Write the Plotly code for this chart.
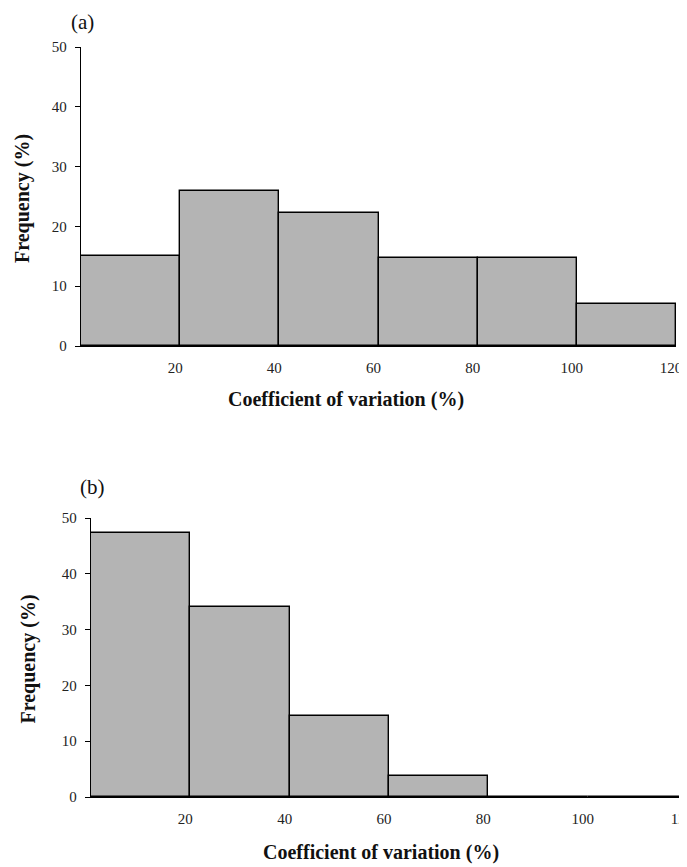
import plotly.graph_objects as go

# Data
bin_centers = [10, 30, 50, 70, 90, 110]
freq_a = [15.0, 26.0, 22.2, 14.7, 14.7, 7.1]
freq_b = [47.3, 34.1, 14.5, 3.8, 0.0, 0.0]
x_ticks = [20, 40, 60, 80, 100, 120]
y_ticks = [0, 10, 20, 30, 40, 50]
x_title = "Coefficient of variation (%)"
y_title = "Frequency (%)"

# page body has an 8px margin: size the figure to fit the window
OFF = 8
W, H = 687 - OFF, 867 - OFF
FONT = "Liberation Serif, Times New Roman, serif"
FILL = "#b4b4b4"

fig = go.Figure()
fig.add_trace(go.Bar(x=bin_centers, y=freq_a, width=20, xaxis="x", yaxis="y",
                     marker=dict(color=FILL, line=dict(color="black", width=1.4)),
                     showlegend=False))
fig.add_trace(go.Bar(x=bin_centers, y=freq_b, width=20, xaxis="x2", yaxis="y2",
                     marker=dict(color=FILL, line=dict(color="black", width=1.4)),
                     showlegend=False))

def px(v):
    return min(1.0, (v - OFF) / W)

def py(v):
    return (H - (v - OFF)) / H

tickfont = dict(family=FONT, size=15, color="#222")

common_x = dict(range=[0, 120], showgrid=False, zeroline=False, showline=True,
                linecolor="black", linewidth=1.4, ticks="", tickvals=x_ticks,
                tickfont=tickfont, automargin=False, ticklabeloverflow="allow",
                ticklabelstandoff=8, ticklabelshift=-5)
common_y = dict(range=[0, 50], showgrid=False, zeroline=False, showline=True,
                linecolor="black", linewidth=1.4, ticks="outside", ticklen=5,
                tickcolor="black", tickwidth=1.2, tickvals=y_ticks,
                tickfont=tickfont, ticklabelstandoff=5, automargin=False)

fig.update_layout(
    width=W, height=H, autosize=False,
    margin=dict(l=0, r=0, t=0, b=0, pad=0, autoexpand=False),
    paper_bgcolor="white", plot_bgcolor="white",
    bargap=0,
    xaxis=dict(domain=[px(81), px(676)], anchor="y", **common_x),
    yaxis=dict(domain=[py(346), py(47)], anchor="x", **common_y),
    xaxis2=dict(domain=[px(91), px(688)], anchor="y2", **common_x),
    yaxis2=dict(domain=[py(797), py(518)], anchor="x2", **common_y),
)

title_font = dict(family=FONT, size=20, color="#111", weight="bold")
ann = [
    dict(text="(a)", x=px(82), y=1.0, yanchor="top",
         font=dict(family=FONT, size=21, color="#111")),
    dict(text="(b)", x=px(92), y=py(487), yanchor="middle",
         font=dict(family=FONT, size=21, color="#111")),
    dict(text=x_title, x=px(346), y=py(400), yanchor="middle", font=title_font),
    dict(text=x_title, x=px(381), y=py(852), yanchor="middle", font=title_font),
    dict(text=y_title, x=px(23), y=py(199), yanchor="middle", font=title_font, textangle=-90),
    dict(text=y_title, x=px(27.5), y=py(659), yanchor="middle", font=title_font, textangle=-90),
]
for a in ann:
    a.update(xref="paper", yref="paper", showarrow=False, xanchor="center")
    fig.add_annotation(**a)

fig.write_html("out.html")
